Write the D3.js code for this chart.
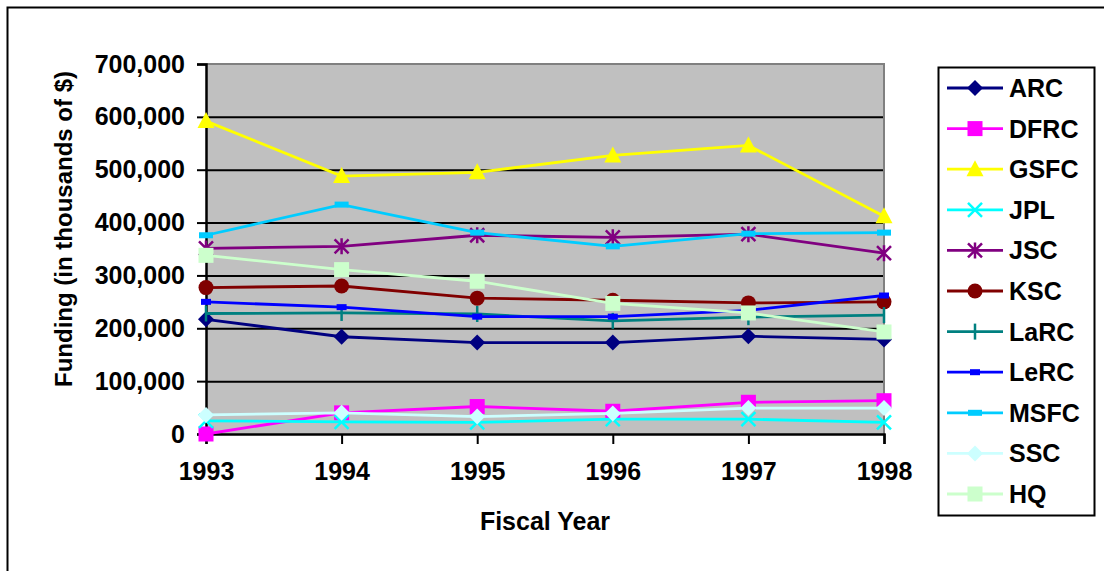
<!DOCTYPE html>
<html><head><meta charset="utf-8">
<script src="https://cdn.jsdelivr.net/npm/d3@7"></script>
<style>
html,body{margin:0;padding:0;background:#fff;}
svg{display:block;font-family:"Liberation Sans",Arial,sans-serif;}
</style></head>
<body>
<svg id="c" width="1104" height="571"></svg>
<script>
const years = ["1993","1994","1995","1996","1997","1998"];
const yTicks = [0,100000,200000,300000,400000,500000,600000,700000];
const seriesNames = ["ARC","DFRC","GSFC","JPL","JSC","KSC","LaRC","LeRC","MSFC","SSC","HQ"];
const seriesColors = ["#000080","#FF00FF","#FFFF00","#00FFFF","#800080","#800000","#008080","#0000FF","#00CCFF","#CCFFFF","#CCFFCC"];
const seriesMarkers = ["diamond","square","triangle","x","asterisk","circle","plus","smallrect","bar","diamond","square"];
const ARC  = [217000,184000,173000,173000,185000,179000];
const DFRC = [0,40000,52000,43000,60000,63000];
const GSFC = [592000,488000,495000,527000,546000,412000];
const JPL  = [25000,23000,22000,28000,28000,22000];
const JSC  = [351000,355000,376000,372000,378000,342000];
const KSC  = [277000,280000,257000,253000,248000,250000];
const LaRC = [228000,229000,227000,214000,221000,225000];
const LeRC = [250000,240000,222000,222000,234000,262000];
const MSFC = [376000,434000,381000,355000,379000,381000];
const SSC  = [36000,40000,33000,39000,49000,49000];
const HQ   = [338000,311000,289000,247000,229000,193000];
const seriesValues = [ARC,DFRC,GSFC,JPL,JSC,KSC,LaRC,LeRC,MSFC,SSC,HQ];

const svg = d3.select("#c");
const L = 206, R = 884, T = 64, B = 434;
const x = d3.scalePoint().domain(years).range([L, R]).padding(0);
const y = d3.scaleLinear().domain([0, 700000]).range([B, T]);

// outer frame
svg.append("rect").attr("x",7.5).attr("y",7.5).attr("width",1120).attr("height",600)
  .attr("fill","none").attr("stroke","#000").attr("stroke-width",2);

// plot background
svg.append("rect").attr("x",L).attr("y",T).attr("width",R-L).attr("height",B-T).attr("fill","#C0C0C0");

// gridlines
const grid = svg.append("g").attr("transform",`translate(${L},0)`)
  .call(d3.axisLeft(y).tickValues(yTicks.filter(d=>d>0 && d<700000)).tickSize(-(R-L)).tickFormat(""));
grid.select(".domain").remove();
grid.selectAll("line").attr("stroke","#000").attr("stroke-width",2);

// plot border (top/right gray)
svg.append("path").attr("d",`M${L},${T}H${R}V${B}`).attr("fill","none").attr("stroke","#808080").attr("stroke-width",2);

// y axis
const ya = svg.append("g").attr("transform",`translate(${L},0)`)
  .call(d3.axisLeft(y).tickValues(yTicks).tickSize(9).tickPadding(12).tickFormat(d3.format(",")));
ya.select(".domain").attr("stroke","#000").attr("stroke-width",2.5);
ya.selectAll("line").attr("stroke","#000").attr("stroke-width",2);
ya.selectAll("text").attr("font-size","25px").attr("font-weight","bold").attr("fill","#000")
  .attr("font-family","'Liberation Sans',Arial,sans-serif");

// x axis
const xa = svg.append("g").attr("transform",`translate(0,${B})`)
  .call(d3.axisBottom(x).tickSize(10).tickPadding(18));
xa.select(".domain").attr("stroke","#000").attr("stroke-width",2.5);
xa.selectAll("line").attr("stroke","#000").attr("stroke-width",2);
xa.selectAll("text").attr("font-size","25px").attr("font-weight","bold").attr("fill","#000")
  .attr("font-family","'Liberation Sans',Arial,sans-serif");

// axis titles
svg.append("text").attr("x",545).attr("y",530).attr("text-anchor","middle")
  .attr("font-size","25px").attr("font-weight","bold").text("Fiscal Year");
svg.append("text").attr("transform","translate(72,229) rotate(-90)").attr("text-anchor","middle")
  .attr("font-size","24px").attr("font-weight","bold").text("Funding (in thousands of $)");

function drawMarker(g, type, color, cx, cy) {
  switch(type){
    case "diamond":
      g.append("path").attr("d",`M${cx},${cy-8}L${cx+8},${cy}L${cx},${cy+8}L${cx-8},${cy}Z`).attr("fill",color);
      break;
    case "square":
      g.append("rect").attr("x",cx-7.5).attr("y",cy-7.5).attr("width",15).attr("height",15).attr("fill",color);
      break;
    case "triangle":
      g.append("path").attr("d",`M${cx},${cy-9}L${cx+8.5},${cy+7}L${cx-8.5},${cy+7}Z`).attr("fill",color);
      break;
    case "x":
      g.append("path").attr("d",`M${cx-7},${cy-7}L${cx+7},${cy+7}M${cx+7},${cy-7}L${cx-7},${cy+7}`)
        .attr("stroke",color).attr("stroke-width",2.5).attr("fill","none");
      break;
    case "asterisk":
      g.append("path").attr("d",`M${cx-7},${cy-7}L${cx+7},${cy+7}M${cx+7},${cy-7}L${cx-7},${cy+7}M${cx},${cy-8}V${cy+8}`)
        .attr("stroke",color).attr("stroke-width",2.5).attr("fill","none");
      break;
    case "circle":
      g.append("circle").attr("cx",cx).attr("cy",cy).attr("r",7.5).attr("fill",color);
      break;
    case "plus":
      g.append("path").attr("d",`M${cx},${cy-8}V${cy+8}`)
        .attr("stroke",color).attr("stroke-width",2.5).attr("fill","none");
      break;
    case "smallrect":
      g.append("rect").attr("x",cx-5).attr("y",cy-3).attr("width",10).attr("height",6).attr("fill",color);
      break;
    case "bar":
      g.append("rect").attr("x",cx-7).attr("y",cy-3).attr("width",14).attr("height",6).attr("fill",color);
      break;
  }
}

const line = d3.line().x((d,i)=>x(years[i])).y(d=>y(d));
seriesNames.forEach((name, si) => {
  const g = svg.append("g");
  const vals = seriesValues[si];
  g.append("path").attr("d", line(vals)).attr("fill","none")
    .attr("stroke", seriesColors[si]).attr("stroke-width",2.8);
  vals.forEach((v,i) => drawMarker(g, seriesMarkers[si], seriesColors[si], x(years[i]), y(v)));
});

// legend
svg.append("rect").attr("x",938.5).attr("y",67.5).attr("width",156).attr("height",448)
  .attr("fill","#fff").attr("stroke","#000").attr("stroke-width",2);
const ly = d3.scalePoint().domain(seriesNames).range([88, 494]);
seriesNames.forEach((name, si) => {
  const g = svg.append("g");
  const cy = ly(name);
  g.append("line").attr("x1",947).attr("x2",1003).attr("y1",cy).attr("y2",cy)
    .attr("stroke",seriesColors[si]).attr("stroke-width",2.8);
  drawMarker(g, seriesMarkers[si], seriesColors[si], 975, cy);
  g.append("text").attr("x",1009).attr("y",cy+9).attr("font-size","25px").attr("font-weight","bold").text(name);
});
</script>
</body></html>
